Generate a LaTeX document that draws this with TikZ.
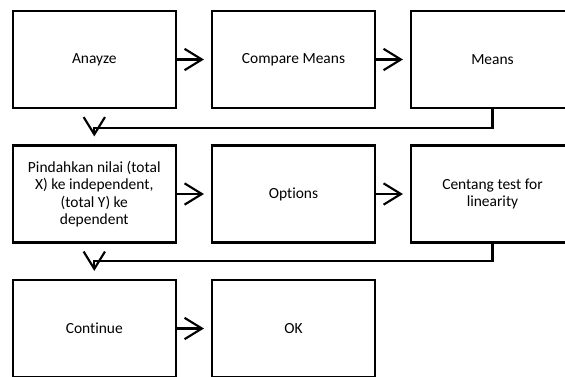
\documentclass[tikz,border=0pt]{standalone}
\usepackage{fontspec}
\setmainfont{Carlito}[RawFeature={-liga}]
\usetikzlibrary{arrows.meta}
\tikzset{
  box/.style={draw=black, line width=1.6pt, fill=white, minimum width=122.25pt, minimum height=72.75pt, inner sep=0pt, align=center, font=\fontsize{11.6}{12.9}\selectfont},
  arr/.style={draw=black, line width=1.6pt, -{Straight Barb[length=13pt,width=16pt,line width=1.6pt]}},
}
\begin{document}
\begin{tikzpicture}[x=0.75pt,y=-0.75pt]
\useasboundingbox (0,0) rectangle (565,376);
\clip (0,0) rectangle (565,376);
\fill[white] (0,0) rectangle (565,376);
\node[box] (a1) at (94.3,59.5) {Anayze};
\node[box] (a2) at (293.5,59.5) {Compare Means};
\node[box] (a3) at (492.5,59.5) {Means};
\node[box] (b1) at (94.3,194) {Pindahkan nilai (total\\X) ke independent,\\(total Y) ke\\dependent};
\node[box] (b2) at (293.5,194) {Options};
\node[box] (b3) at (492.5,194) {Centang test for\\linearity};
\node[box] (c1) at (94.3,328.5) {Continue};
\node[box] (c2) at (293.5,328.5) {OK};
\draw[arr, shorten >=5.25pt] (a1.east) -- (a2.west);
\draw[arr, shorten >=5.25pt] (a2.east) -- (a3.west);
\draw[arr, shorten >=5.25pt] (b1.east) -- (b2.west);
\draw[arr, shorten >=5.25pt] (b2.east) -- (b3.west);
\draw[arr, shorten >=5.25pt] (c1.east) -- (c2.west);
\draw[arr, shorten >=6pt] (a3.south) -- ++(0,18.7) -| (b1.north);
\draw[arr, shorten >=6pt] (b3.south) -- ++(0,17) -| (c1.north);
\end{tikzpicture}
\end{document}
